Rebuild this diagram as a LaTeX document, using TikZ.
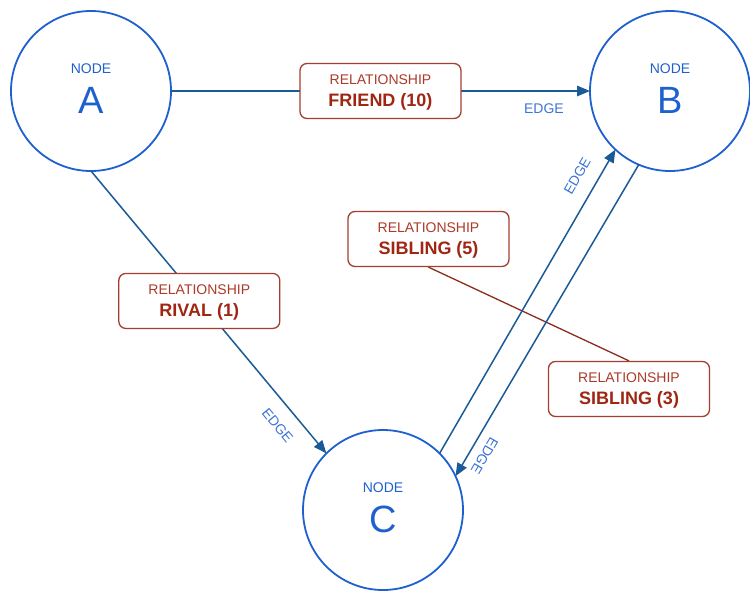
\documentclass[tikz,border=0pt]{standalone}
\usepackage{fontspec}
\setmainfont{Liberation Sans}
\usetikzlibrary{arrows.meta}
\definecolor{nodeblue}{RGB}{30,96,206}
\definecolor{edgeblue}{RGB}{26,90,150}
\definecolor{tagblue}{RGB}{60,115,214}
\definecolor{relframe}{RGB}{163,62,48}
\definecolor{reltext}{RGB}{172,58,42}
\definecolor{relbold}{RGB}{160,38,20}
\definecolor{rellink}{RGB}{140,44,30}
\begin{document}
\begin{tikzpicture}[x=1pt,y=-1pt,
  entity/.style={circle, draw=nodeblue, line width=1.8pt, minimum size=160pt,
    inner sep=0pt, outer sep=0pt, align=center, text=nodeblue,
    font=\fontsize{14}{40.7}\selectfont, text depth=4.6pt},
  relbox/.style={draw=relframe, line width=1.3pt, rounded corners=7pt, fill=white,
    minimum width=161pt, minimum height=55pt, inner sep=0pt, align=center,
    text=reltext, font=\fontsize{14}{22}\selectfont, text depth=0pt},
  flow/.style={draw=edgeblue, line width=1.5pt, -{Triangle[length=13pt,width=10.5pt]}},
  edgetag/.style={text=tagblue, font=\fontsize{14}{14}\selectfont, inner sep=0pt, sloped},
  tie/.style={draw=rellink, line width=1.3pt}]

\useasboundingbox (0,0) rectangle (750,590);

% relationship boxes between the two edges B--C
\node[relbox] (sib5) at (428.5,239) {RELATIONSHIP\\{\fontsize{18}{22}\selectfont\bfseries\color{relbold}SIBLING (5)}};
\node[relbox] (sib3) at (629,389) {RELATIONSHIP\\{\fontsize{18}{22}\selectfont\bfseries\color{relbold}SIBLING (3)}};
\draw[tie] (sib5.south) -- (sib3.north);

% the three nodes
\node[entity] (A) at (91,91) {NODE\\{\fontsize{38}{40.7}\selectfont A}};
\node[entity] (B) at (670,91) {NODE\\{\fontsize{38}{40.7}\selectfont B}};
\node[entity] (C) at (383,510) {NODE\\{\fontsize{38}{40.7}\selectfont C}};

% edges
\draw[flow] (A.east) --
  node[relbox, pos=.5] (friend) {RELATIONSHIP\\{\fontsize{18}{22}\selectfont\bfseries\color{relbold}FRIEND (10)}}
  node[edgetag, pos=.89, below=12pt] {EDGE} (B.west);

\draw[flow] (A.south) --
  node[relbox, pos=.46] (rival) {RELATIONSHIP\\{\fontsize{18}{22}\selectfont\bfseries\color{relbold}RIVAL (1)}}
  node[edgetag, pos=.857, below=14pt] {EDGE} (C.135);

\draw[flow] (C.45) --
  node[edgetag, pos=.88, above=14pt] {EDGE} (B.227);

\draw[flow] (B.247) --
  node[edgetag, pos=.91, allow upside down, above=9pt] {EDGE} (C.25);
\end{tikzpicture}
\end{document}
